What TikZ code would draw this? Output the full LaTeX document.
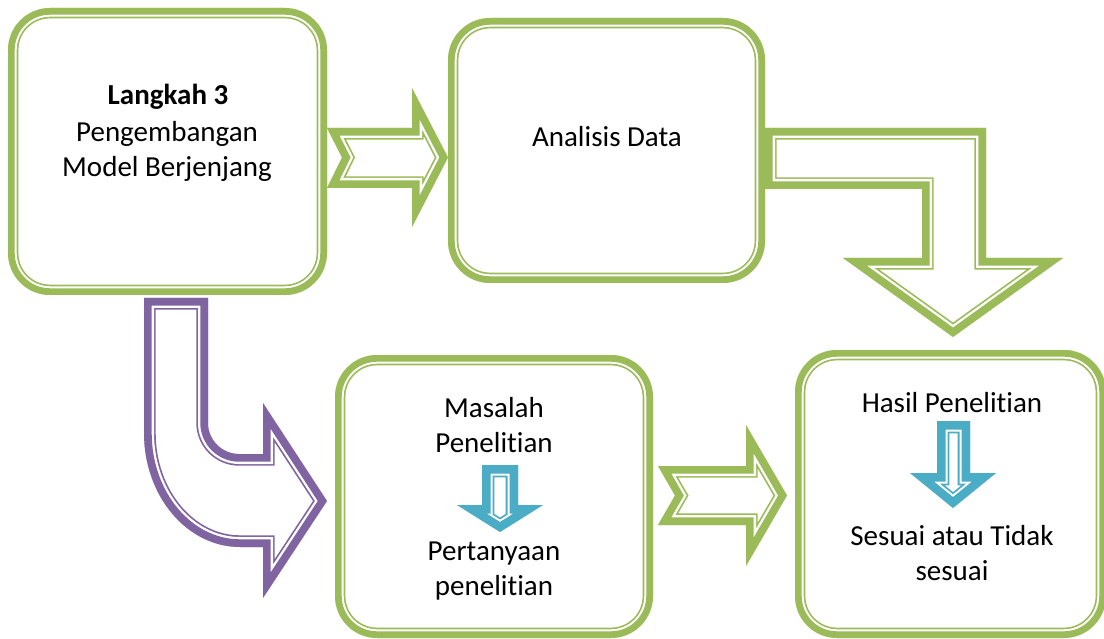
\documentclass[tikz,border=0pt]{standalone}
\usepackage{fontspec}
\setmainfont{Carlito}[Ligatures=NoCommon]
\definecolor{leaf}{HTML}{9BBB59}
\definecolor{plum}{HTML}{8064A2}
\definecolor{aqua}{HTML}{4BACC6}

% Thick-thin banded outline drawn inside a closed path:
% #1 colour, #2 outer edge of thin line, #3 outer edge of gap, #4 thick band
% (all given as full stroke widths), #5 path options, #6 the path itself.
\newcommand\bandshape[6]{%
  \begin{scope}[#5]
    \clip #6;
    \fill[white] #6;
    \draw[#1,line width=#2] #6;
    \draw[white,line width=#3] #6;
    \draw[#1,line width=#4] #6;
  \end{scope}}

\tikzset{
  boxarea/.style={rectangle, inner sep=0pt, outer sep=0pt},
  lbl/.style={anchor=base, inner sep=0pt, font=\fontsize{29pt}{35pt}\selectfont},
  sharp/.style={line join=miter, miter limit=40},
}

\begin{document}
\begin{tikzpicture}[x=1pt,y=-1pt]
\useasboundingbox (0,0) rectangle (1104,639);

% box areas
\node[boxarea, minimum width=319pt, minimum height=287pt] (b1) at (167.5,151.5) {};
\node[boxarea, minimum width=317pt, minimum height=265pt] (b2) at (606.5,150.5) {};
\node[boxarea, minimum width=318pt, minimum height=283pt] (b3) at (494,496.5) {};
\node[boxarea, minimum width=311pt, minimum height=288pt] (b4) at (950.5,494) {};

% rounded double frames
\foreach \b in {b1,b2,b3,b4}{
  \bandshape{leaf}{20.8pt}{17.4pt}{13.4pt}{rounded corners=42pt}
    {(\b.north west) rectangle (\b.south east)}
}

% straight block arrow: step 3 -> data analysis
\bandshape{leaf}{23.4pt}{20pt}{15.4pt}{sharp}
  {(327,128) -- (412,128) -- (412,88) -- (448,157.5) -- (412,227) -- (412,188) -- (327,188) -- (342,157.5) -- cycle}

% straight block arrow: research problem -> research result
\bandshape{leaf}{23.4pt}{20pt}{15.4pt}{sharp}
  {(658,466) -- (746,466) -- (746,425) -- (787,495.5) -- (746,566) -- (746,525) -- (658,525) -- (675,495.5) -- cycle}

% bent block arrow: data analysis -> research result
\bandshape{leaf}{23.4pt}{20pt}{15.4pt}{sharp}
  {(765,128) -- (986,128) -- (986,258) -- (1063,258) -- (953,337) -- (843,258) -- (922,258) -- (922,189) -- (765,189) -- cycle}

% curved block arrow: step 3 -> research problem
\bandshape{plum}{23.4pt}{20pt}{15.4pt}{sharp}
  {(144,298) -- (208,298) -- (208,423) .. controls (208,440) and (222,454) .. (239,454) -- (263,454) -- (263,403) -- (327,501) -- (263,598) -- (263,547) -- (240,547) .. controls (187,547) and (144,496) .. (144,433) -- cycle}

% small down arrows inside the lower boxes
\bandshape{aqua}{24.6pt}{21pt}{17pt}{sharp}
  {(482,465) -- (518,465) -- (518,505) -- (543,505) -- (500,532) -- (457,505) -- (482,505) -- cycle}
\bandshape{aqua}{24.6pt}{21pt}{17pt}{sharp}
  {(937,421) -- (970,421) -- (970,473) -- (996,473) -- (953,508) -- (910,473) -- (937,473) -- cycle}

% labels
\node[lbl, font=\fontsize{29pt}{35pt}\selectfont\bfseries] (t1) at (168,105) {Langkah 3};
\node[lbl] (t2) at (167,142) {Pengembangan};
\node[lbl] (t3) at (167,177) {Model Berjenjang};
\node[lbl] (t4) at (607,147) {Analisis Data};
\node[lbl] (t5) at (494,417) {Masalah};
\node[lbl] (t6) at (494,452) {Penelitian};
\node[lbl] (t7) at (494,560) {Pertanyaan};
\node[lbl] (t8) at (494,595) {penelitian};
\node[lbl] (t9) at (952,412) {Hasil Penelitian};
\node[lbl] (t10) at (952,545) {Sesuai atau Tidak};
\node[lbl] (t11) at (952,580) {sesuai};
\end{tikzpicture}
\end{document}
